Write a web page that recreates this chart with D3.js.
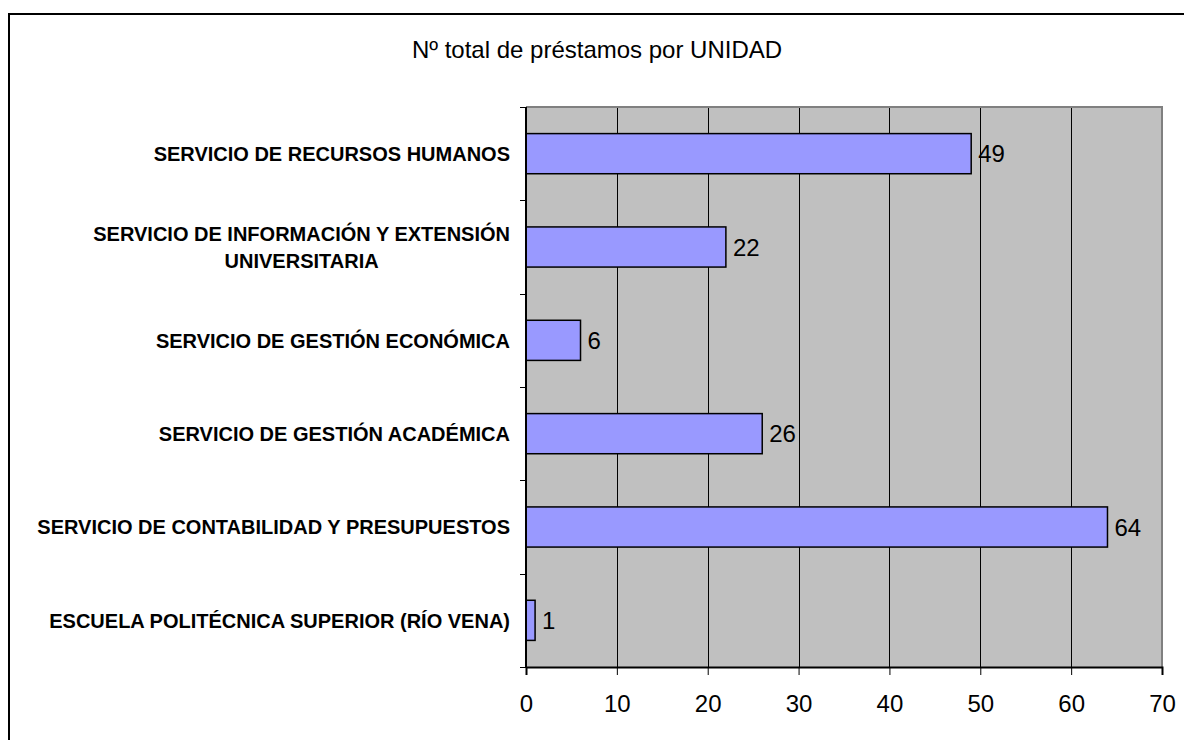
<!DOCTYPE html>
<html>
<head>
<meta charset="utf-8">
<script src="https://cdn.jsdelivr.net/npm/d3@7"></script>
<style>
  body { margin: 0; background: #fff; }
  svg { display: block; font-family: "Liberation Sans", Arial, sans-serif; }
</style>
</head>
<body>
<svg></svg>
<script>
// Chart size
const width = 1184;
const height = 740;

// Data (top to bottom)
const categories = [
    ["SERVICIO DE RECURSOS HUMANOS"],
    ["SERVICIO DE INFORMACIÓN Y EXTENSIÓN", "UNIVERSITARIA"],
    ["SERVICIO DE GESTIÓN ECONÓMICA"],
    ["SERVICIO DE GESTIÓN ACADÉMICA"],
    ["SERVICIO DE CONTABILIDAD Y PRESUPUESTOS"],
    ["ESCUELA POLITÉCNICA SUPERIOR (RÍO VENA)"]
];
const values = [49, 22, 6, 26, 64, 1];
const xTicks = [0, 10, 20, 30, 40, 50, 60, 70];
const title = "Nº total de préstamos por UNIDAD";

const plot = { left: 526, right: 1162, top: 107, bottom: 667 };

const svg = d3.select("svg")
    .attr("width", width)
    .attr("height", height);

// Outer chart border (runs off the right and bottom)
svg.append("rect")
    .attr("x", 9).attr("y", 14)
    .attr("width", width + 20).attr("height", height + 20)
    .attr("fill", "none")
    .attr("stroke", "#000")
    .attr("stroke-width", 2);

// Title
svg.append("text")
    .attr("x", 597).attr("y", 58)
    .attr("text-anchor", "middle")
    .attr("font-size", 24)
    .attr("fill", "#000")
    .text(title);

// Scales
const x = d3.scaleLinear()
    .domain([0, 70])
    .range([plot.left, plot.right]);

const y = d3.scaleBand()
    .domain(d3.range(categories.length))
    .range([plot.top, plot.bottom])
    .paddingInner(0.57)
    .paddingOuter(0.285);

// Plot background
svg.append("rect")
    .attr("x", plot.left).attr("y", plot.top)
    .attr("width", plot.right - plot.left)
    .attr("height", plot.bottom - plot.top)
    .attr("fill", "#c0c0c0");

// Vertical gridlines
svg.selectAll("line.grid")
    .data(xTicks.slice(1, -1))
    .enter().append("line")
    .attr("class", "grid")
    .attr("x1", d => Math.round(x(d)) + 0.5)
    .attr("x2", d => Math.round(x(d)) + 0.5)
    .attr("y1", plot.top)
    .attr("y2", plot.bottom)
    .attr("stroke", "#000")
    .attr("stroke-width", 1);

// Plot border top/right (gray)
svg.append("path")
    .attr("d", `M${plot.left},${plot.top}H${plot.right}V${plot.bottom}`)
    .attr("fill", "none")
    .attr("stroke", "#808080")
    .attr("stroke-width", 2);

// Bars
svg.selectAll("rect.bar")
    .data(values)
    .enter().append("rect")
    .attr("class", "bar")
    .attr("x", x(0))
    .attr("y", (d, i) => y(i))
    .attr("width", d => x(d) - x(0))
    .attr("height", y.bandwidth())
    .attr("fill", "#9999ff")
    .attr("stroke", "#000")
    .attr("stroke-width", 1.5);

// Value labels
svg.selectAll("text.val")
    .data(values)
    .enter().append("text")
    .attr("class", "val")
    .attr("x", d => x(d) + 7)
    .attr("y", (d, i) => y(i) + y.bandwidth() / 2)
    .attr("dy", "0.36em")
    .attr("font-size", 24)
    .attr("fill", "#000")
    .text(d => d);

// X axis
const xAxis = svg.append("g")
    .attr("transform", `translate(0,${plot.bottom})`)
    .call(d3.axisBottom(x).tickValues(xTicks).tickSize(8).tickPadding(20));
xAxis.select(".domain").attr("stroke", "#000").attr("stroke-width", 2);
xAxis.selectAll(".tick line").attr("stroke", "#000");
xAxis.selectAll(".tick text")
    .attr("font-size", 24)
    .attr("font-family", "Liberation Sans, Arial, sans-serif")
    .attr("fill", "#000");

// Y axis line + ticks at band boundaries
const step = y.step();
const boundaries = d3.range(categories.length + 1).map(i => plot.top + i * step);
svg.append("line")
    .attr("x1", plot.left).attr("x2", plot.left)
    .attr("y1", plot.top).attr("y2", plot.bottom)
    .attr("stroke", "#000").attr("stroke-width", 2);
svg.selectAll("line.ytick")
    .data(boundaries)
    .enter().append("line")
    .attr("class", "ytick")
    .attr("x1", plot.left - 6).attr("x2", plot.left)
    .attr("y1", d => Math.round(d) + 0.5).attr("y2", d => Math.round(d) + 0.5)
    .attr("stroke", "#000");

// Category labels
const labelRight = 510;
const lineH = 27;
categories.forEach((lines, i) => {
    const cy = y(i) + y.bandwidth() / 2;
    const t = svg.append("text")
        .attr("font-size", 20)
        .attr("font-weight", "bold")
        .attr("fill", "#000");
    const y0 = cy - (lines.length - 1) * lineH / 2;
    if (lines.length === 1) {
        t.attr("x", labelRight).attr("y", y0).attr("dy", "0.36em")
            .attr("text-anchor", "end").text(lines[0]);
    } else {
        // multi-line: lines centred on the first line's centre
        const probe = t.append("tspan").text(lines[0]);
        const w = probe.node().getComputedTextLength();
        probe.remove();
        t.attr("text-anchor", "middle");
        lines.forEach((ln, j) => {
            t.append("tspan")
                .attr("x", labelRight - w / 2)
                .attr("y", y0 + j * lineH)
                .attr("dy", "0.36em")
                .text(ln);
        });
    }
});
</script>
</body>
</html>
